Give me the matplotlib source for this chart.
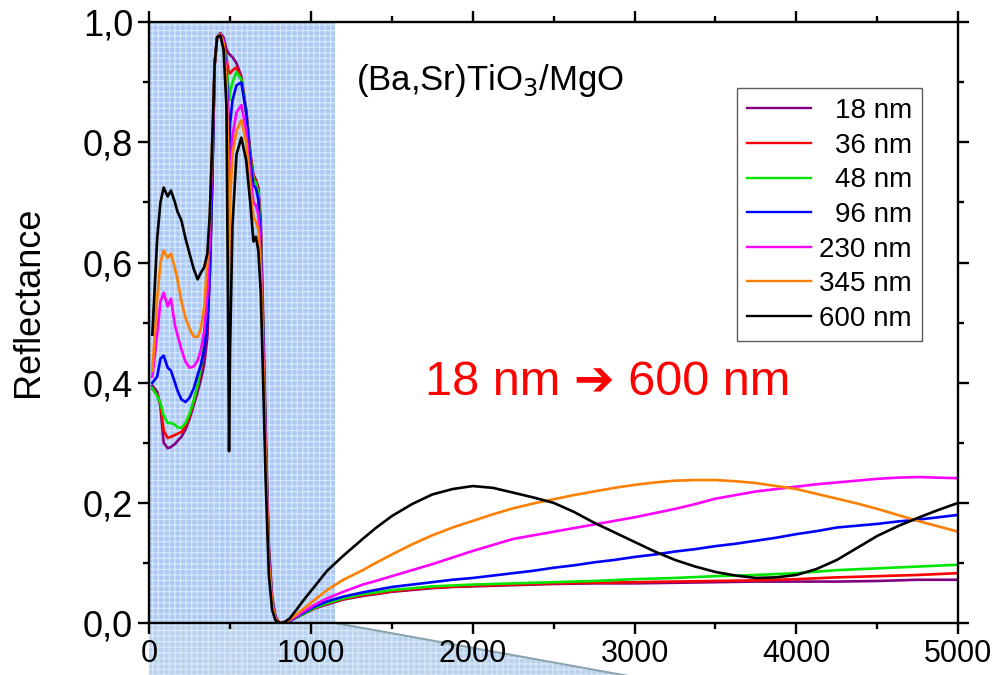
import numpy as np
import matplotlib
matplotlib.use('Agg')
import matplotlib.pyplot as plt
from matplotlib.patches import Polygon
from matplotlib.ticker import MultipleLocator, FuncFormatter

plt.rcParams['font.family'] = ['Liberation Sans', 'DejaVu Sans']
plt.rcParams['hatch.linewidth'] = 0.9

# wavenumber grid (cm-1)
wn = [20, 50, 70, 90, 115, 135, 160, 175, 200, 225, 250, 275, 300, 320, 340, 360, 375, 390, 405, 420,
      440, 460, 478, 487, 494, 500, 515, 540, 570, 600, 625, 645, 660, 675, 690, 705, 720, 740, 760, 780,
      800, 815, 840, 870, 910, 960, 1020, 1100, 1200, 1320,
      1400, 1500, 1625, 1750, 1875, 2000, 2125, 2250, 2375, 2500, 2625, 2750, 2875, 3000, 3125,
      3250, 3375, 3500, 3625, 3750, 3875, 4000, 4125, 4250, 4375, 4500, 4625, 4750, 4875, 5000]

r_18 = [0.395, 0.385, 0.36, 0.30, 0.291, 0.293, 0.298, 0.303, 0.31, 0.322,
        0.34, 0.362, 0.385, 0.405, 0.43, 0.475, 0.58, 0.73, 0.93, 0.975,
        0.982, 0.975, 0.955, 0.95, 0.947, 0.946, 0.942, 0.932, 0.91, 0.855,
        0.785, 0.745, 0.738, 0.725, 0.67, 0.51, 0.33, 0.13, 0.045, 0.012,
        0.002, 0.0, 0.001, 0.004, 0.009, 0.016, 0.024, 0.031, 0.039, 0.045,
        0.048, 0.052, 0.055, 0.058, 0.06, 0.061, 0.062, 0.063, 0.064, 0.065,
        0.0655, 0.066, 0.066, 0.066, 0.0665, 0.067, 0.0675, 0.068, 0.0685, 0.069,
        0.069, 0.069, 0.069, 0.069, 0.0695, 0.07, 0.071, 0.072, 0.072, 0.072]
r_36 = [0.39, 0.38, 0.365, 0.32, 0.308, 0.31, 0.313, 0.315, 0.318, 0.328,
        0.345, 0.368, 0.395, 0.42, 0.46, 0.52, 0.61, 0.74, 0.93, 0.975,
        0.98, 0.97, 0.94, 0.925, 0.915, 0.915, 0.92, 0.925, 0.905, 0.85,
        0.78, 0.742, 0.736, 0.72, 0.65, 0.49, 0.31, 0.12, 0.04, 0.01,
        0.002, 0.0, 0.001, 0.004, 0.009, 0.016, 0.024, 0.032, 0.04, 0.046,
        0.049, 0.053, 0.056, 0.059, 0.0605, 0.062, 0.063, 0.064, 0.065, 0.066,
        0.0665, 0.067, 0.0675, 0.068, 0.0685, 0.069, 0.0695, 0.07, 0.0705, 0.071,
        0.072, 0.073, 0.0745, 0.076, 0.077, 0.078, 0.079, 0.08, 0.0815, 0.083]
r_48 = [0.391, 0.378, 0.366, 0.345, 0.333, 0.333, 0.33, 0.326, 0.325, 0.333,
        0.348, 0.37, 0.396, 0.425, 0.465, 0.53, 0.61, 0.74, 0.93, 0.975,
        0.98, 0.97, 0.93, 0.9, 0.87, 0.884, 0.9, 0.917, 0.905, 0.85,
        0.775, 0.738, 0.733, 0.715, 0.645, 0.485, 0.305, 0.115, 0.038, 0.01,
        0.002, 0.0, 0.001, 0.004, 0.009, 0.016, 0.025, 0.033, 0.041, 0.048,
        0.051, 0.055, 0.058, 0.061, 0.0625, 0.064, 0.065, 0.066, 0.067, 0.068,
        0.069, 0.07, 0.0715, 0.073, 0.074, 0.075, 0.0765, 0.078, 0.079, 0.08,
        0.0815, 0.083, 0.0855, 0.088, 0.0895, 0.091, 0.0925, 0.094, 0.0955, 0.097]
r_96 = [0.40, 0.41, 0.44, 0.445, 0.425, 0.42, 0.40, 0.387, 0.372, 0.368,
        0.375, 0.39, 0.413, 0.43, 0.455, 0.50, 0.58, 0.73, 0.93, 0.975,
        0.98, 0.97, 0.92, 0.87, 0.77, 0.83, 0.87, 0.895, 0.90, 0.85,
        0.77, 0.728, 0.724, 0.705, 0.635, 0.475, 0.30, 0.11, 0.036, 0.01,
        0.002, 0.0, 0.002, 0.004, 0.01, 0.018, 0.027, 0.036, 0.044, 0.051,
        0.055, 0.06, 0.064, 0.068, 0.072, 0.075, 0.079, 0.083, 0.087, 0.092,
        0.096, 0.101, 0.105, 0.11, 0.114, 0.119, 0.123, 0.128, 0.132, 0.137,
        0.142, 0.148, 0.153, 0.159, 0.162, 0.165, 0.169, 0.172, 0.176, 0.18]
r_230 = [0.41, 0.48, 0.535, 0.55, 0.527, 0.54, 0.495, 0.48, 0.455, 0.435,
         0.425, 0.427, 0.437, 0.455, 0.485, 0.545, 0.64, 0.78, 0.93, 0.975,
         0.98, 0.97, 0.91, 0.84, 0.62, 0.74, 0.81, 0.85, 0.862, 0.82,
         0.745, 0.70, 0.695, 0.68, 0.615, 0.46, 0.29, 0.105, 0.034, 0.009,
         0.002, 0.0, 0.002, 0.005, 0.011, 0.02, 0.03, 0.041, 0.052, 0.064,
         0.07, 0.078, 0.088, 0.098, 0.109, 0.12, 0.13, 0.14, 0.146, 0.152,
         0.158, 0.164, 0.17, 0.176, 0.183, 0.19, 0.198, 0.207, 0.213, 0.219,
         0.223, 0.227, 0.231, 0.234, 0.237, 0.24, 0.242, 0.243, 0.242, 0.241]
r_345 = [0.42, 0.54, 0.60, 0.62, 0.608, 0.615, 0.59, 0.572, 0.535, 0.508,
         0.49, 0.477, 0.476, 0.49, 0.525, 0.60, 0.68, 0.80, 0.93, 0.975,
         0.98, 0.965, 0.90, 0.80, 0.50, 0.70, 0.78, 0.82, 0.837, 0.80,
         0.725, 0.675, 0.668, 0.655, 0.59, 0.44, 0.28, 0.10, 0.032, 0.008,
         0.002, 0.0, 0.002, 0.006, 0.014, 0.025, 0.038, 0.055, 0.072, 0.088,
         0.10, 0.114, 0.131, 0.146, 0.159, 0.17, 0.181, 0.191, 0.199, 0.206,
         0.213, 0.219, 0.225, 0.23, 0.234, 0.237, 0.238, 0.238, 0.236, 0.233,
         0.228, 0.223, 0.215, 0.207, 0.199, 0.19, 0.18, 0.17, 0.161, 0.152]
r_600 = [0.48, 0.64, 0.70, 0.725, 0.71, 0.72, 0.70, 0.685, 0.67, 0.64,
         0.615, 0.59, 0.572, 0.583, 0.592, 0.615, 0.68, 0.80, 0.93, 0.975,
         0.978, 0.955, 0.86, 0.55, 0.286, 0.45, 0.66, 0.78, 0.808, 0.77,
         0.70, 0.635, 0.643, 0.62, 0.55, 0.40, 0.24, 0.08, 0.022, 0.005,
         0.001, 0.0, 0.002, 0.008, 0.022, 0.04, 0.06, 0.087, 0.112, 0.14,
         0.158, 0.178, 0.198, 0.214, 0.223, 0.228, 0.225, 0.217, 0.209, 0.20,
         0.185, 0.167, 0.151, 0.135, 0.119, 0.105, 0.094, 0.085, 0.079, 0.075,
         0.076, 0.08, 0.09, 0.105, 0.125, 0.145, 0.161, 0.175, 0.188, 0.20]

labels = ['18 nm', '36 nm', '48 nm', '96 nm', '230 nm', '345 nm', '600 nm']
colors = ['#800080', '#ff0000', '#00e600', '#0000ff', '#ff00ff', '#ff8000', '#000000']
series = [r_18, r_36, r_48, r_96, r_230, r_345, r_600]

zoom_end = 1150      # end of highlighted far-IR range
callout_end = 3000   # bottom right corner of the call-out below the axis

fig = plt.figure(figsize=(9.94, 6.75), dpi=100)
ax = fig.add_axes([0.150, 0.077, 0.814, 0.890])

# shaded far-IR window
ax.axvspan(0, zoom_end, facecolor='#abc9f3', edgecolor='#d6e6fb', hatch='+++', lw=0, zorder=0)

for y, c, lab in zip(series, colors, labels):
    ax.plot(wn, y, color=c, lw=1.9, label=lab, zorder=2)

ax.set_xlim(0, 5000)
ax.set_ylim(0, 1.0)

# call-out trapezoid hanging below the x axis
ybot = -0.09
trap = Polygon([[0, 0], [zoom_end, 0], [callout_end, ybot], [0, ybot]], closed=True,
               facecolor='#b9d3ee', edgecolor='#d9e7f7', hatch='+++', lw=0,
               clip_on=False, zorder=-1)
ax.add_patch(trap)
ax.plot([zoom_end, callout_end], [0, ybot], color='#8aa5ad', lw=1.5, clip_on=False, zorder=-1)

ax.xaxis.set_major_locator(MultipleLocator(1000))
ax.xaxis.set_minor_locator(MultipleLocator(500))
ax.yaxis.set_major_locator(MultipleLocator(0.2))
ax.yaxis.set_minor_locator(MultipleLocator(0.1))
ax.yaxis.set_major_formatter(FuncFormatter(lambda v, p: ('%.1f' % v).replace('.', ',')))
ax.tick_params(which='both', direction='out', top=True, right=True, width=1.7)
ax.tick_params(axis='x', labelsize=22)
ax.tick_params(axis='y', labelsize=26)
ax.tick_params(which='major', length=8)
ax.tick_params(which='minor', length=4.5)
for s in ax.spines.values():
    s.set_linewidth(1.7)

ax.set_ylabel('Reflectance', fontsize=26)
ax.yaxis.set_label_coords(-0.128, 0.534)

ax.text(0.256, 0.903, '(Ba,Sr)TiO$_3$/MgO', transform=ax.transAxes, fontsize=25,
        ha='left', va='center')
ax.text(0.341, 0.40, '18 nm \u2794 600 nm', transform=ax.transAxes, fontsize=35,
        color='#ff0000', ha='left', va='center')

leg = ax.legend(loc='upper left', bbox_to_anchor=(0.727, 0.890), fontsize=20, frameon=True,
                fancybox=False, edgecolor='#333333', handlelength=2.3, handletextpad=0.3,
                labelspacing=0.31, borderpad=0.35, borderaxespad=0)
leg.get_frame().set_linewidth(1.0)
for l in leg.get_lines():
    l.set_linewidth(1.7)

# right-align the legend labels
fig.canvas.draw()
renderer = fig.canvas.get_renderer()
widths = [t.get_window_extent(renderer).width for t in leg.get_texts()]
shift = max(widths)
for t, w in zip(leg.get_texts(), widths):
    t.set_position((shift - w, 0))

fig.savefig('out.png', dpi=100)
